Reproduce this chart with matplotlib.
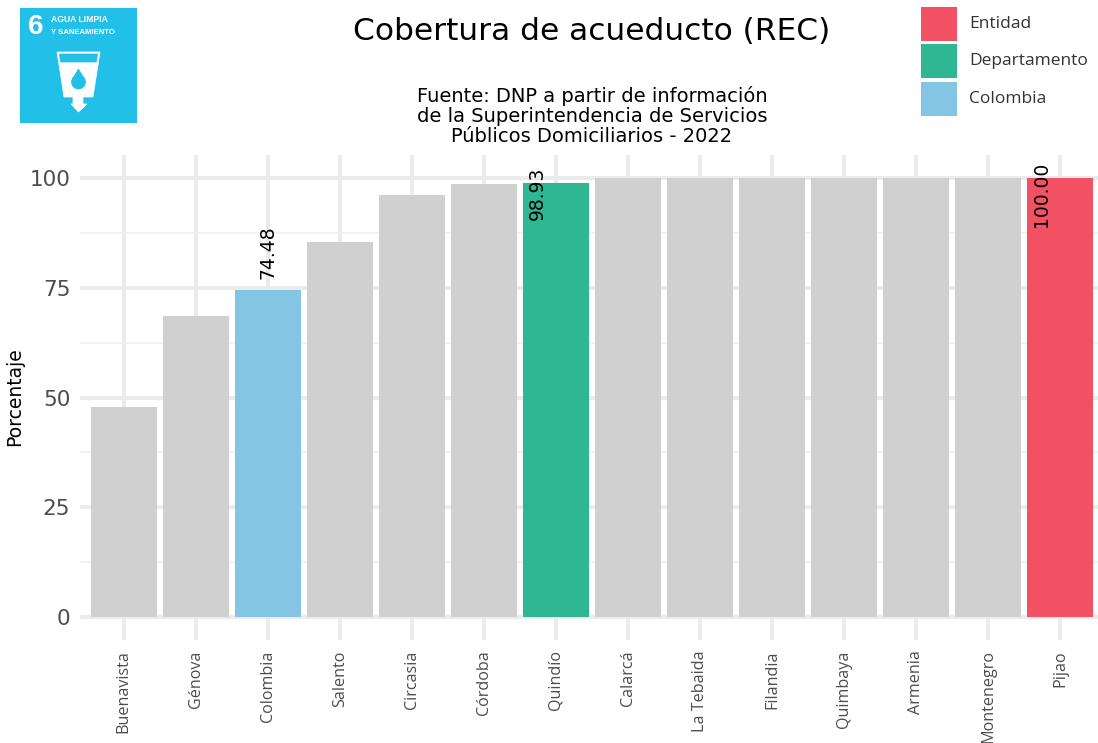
import matplotlib
matplotlib.use("Agg")
import matplotlib.pyplot as plt
from matplotlib.patches import Polygon, Rectangle, Ellipse

entidades = ['Buenavista', 'Génova', 'Colombia', 'Salento', 'Circasia', 'Córdoba', 'Quindío',
             'Calarcá', 'La Tebaida', 'Filandia', 'Quimbaya', 'Armenia', 'Montenegro', 'Pijao']
valores = [47.8, 68.5, 74.48, 85.5, 96.0, 98.7, 98.93, 100, 100, 100, 100, 100, 100, 100]
colores = {'Colombia': '#85C5E4', 'Quindío': '#2FB793', 'Pijao': '#F25063'}
etiquetas = {'Colombia': '74.48', 'Quindío': '98.93', 'Pijao': '100.00'}
leyenda = ['Entidad', 'Departamento', 'Colombia']
leyenda_colores = ['#F25063', '#2FB793', '#85C5E4']
yticks = [0, 25, 50, 75, 100]

W, H = 1098, 743
fig = plt.figure(figsize=(W / 100, H / 100), dpi=100)


def fx(px):
    return px / W


def fy(py):
    return 1 - py / H


ax = fig.add_axes([fx(80), fy(640), fx(1018), (640 - 155) / H])
barras = ax.bar(range(len(entidades)), valores, width=0.915,
                color=[colores.get(e, '#D0D0D0') for e in entidades], zorder=3)
ax.set_xlim(-0.605, 13.525)
ax.set_ylim(-5.2, 105.2)

ax.set_yticks(yticks)
ax.set_yticks([12.5, 37.5, 62.5, 87.5], minor=True)
ax.set_xticks(range(len(entidades)))
ax.set_xticklabels(entidades, rotation=90, fontsize=11.6, color='#4D4D4D', family='Open Sans')
ax.tick_params(axis='x', length=0, pad=7.5)
ax.tick_params(axis='y', which='both', length=0, pad=7)
ax.tick_params(axis='y', labelsize=15.5, labelcolor='#4D4D4D')
ax.grid(True, which='major', color='#EBEBEB', linewidth=2.9, zorder=0)
ax.grid(True, which='minor', axis='y', color='#EFEFEF', linewidth=1.1, zorder=0)
for s in ax.spines.values():
    s.set_visible(False)
fig.text(fx(15), fy(397), 'Porcentaje', rotation=90, ha='center', va='center', fontsize=13.5)

for i, e in enumerate(entidades):
    if e in etiquetas:
        # solo Colombia queda centrada, las otras dos van corridas a la izquierda
        if e == 'Colombia':
            ax.text(i, valores[i] + 2.6, etiquetas[e], rotation=90, ha='center', va='bottom', fontsize=13.5, zorder=5)
        else:
            ax.text(i - 0.26, valores[i] + 3.6, etiquetas[e], rotation=90, ha='center', va='top', fontsize=13.5, zorder=5)

fig.text(fx(592), fy(31), 'Cobertura de acueducto (REC)', ha='center', va='center', fontsize=22.5)
fig.text(fx(592), fy(116), 'Fuente: DNP a partir de información\nde la Superintendencia de Servicios\nPúblicos Domiciliarios - 2022',
         ha='center', va='center', fontsize=14, linespacing=1.08)

# leyenda
for i, (nombre, c) in enumerate(zip(leyenda, leyenda_colores)):
    y0 = 7 + i * 37.3
    fig.add_artist(Rectangle((fx(921), fy(y0 + 34)), 36 / W, 34 / H, transform=fig.transFigure, color=c, lw=0))
    fig.text(fx(969), fy(y0 + 17), nombre, va='center', fontsize=12.5, color='#333333', family='Open Sans')

# logo ODS 6
azul = '#22C0E8'
logo = fig.add_axes([fx(20), fy(123), 117 / W, 115 / H])
logo.set_xlim(20, 137)
logo.set_ylim(123, 8)
logo.axis('off')
logo.add_patch(Rectangle((20, 8), 117, 115, color=azul, lw=0))
logo.text(36, 27, '6', color='white', fontsize=20, ha='center', va='center', family='Liberation Sans', weight='bold')
logo.text(51, 20, 'AGUA LIMPIA', color='white', fontsize=6.2, va='center', family='Liberation Sans', weight='bold')
logo.text(51, 33, 'Y SANEAMIENTO', color='white', fontsize=5.6, va='center', family='Liberation Sans', weight='bold')
logo.add_patch(Polygon([(57, 52), (100, 52), (93, 97), (64, 97)], closed=True, fc='white', ec='white', lw=0.5))
logo.add_patch(Polygon([(59.5, 54), (97.5, 54), (96.5, 62), (60.5, 62)], closed=True, fc=azul, ec=azul, lw=0.5))
logo.add_patch(Polygon([(73, 97), (83, 97), (83, 104), (87, 104), (78.5, 112), (71, 104), (73, 104)], closed=True, fc='white', ec='white', lw=0.5))
logo.add_patch(Ellipse((78.5, 82), 14, 14, fc=azul, ec=azul, lw=0.5))
logo.add_patch(Polygon([(78.5, 69), (72.5, 79), (84.5, 79)], closed=True, fc=azul, ec=azul, lw=0.5))

fig.savefig('out.png', dpi=100)
